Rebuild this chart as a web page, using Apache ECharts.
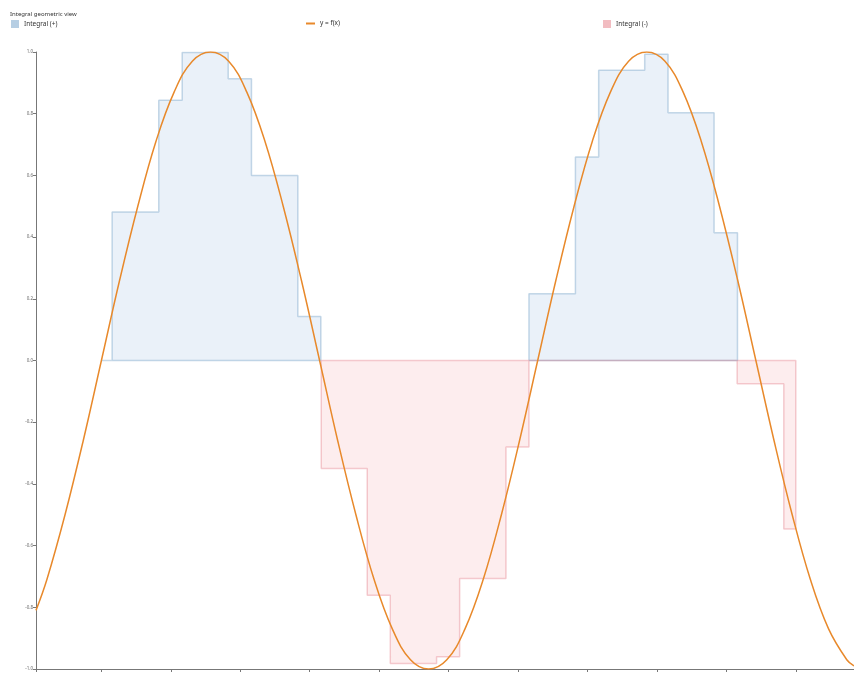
<!DOCTYPE html>
<html>
<head>
<meta charset="utf-8">
<script src="https://cdn.jsdelivr.net/npm/echarts@6/dist/echarts.min.js"></script>
<style>
html,body{margin:0;padding:0;background:#fff;}
#chart{width:854px;height:675px;}
</style>
</head>
<body>
<div id="chart"></div>
<script>
// Curve y = f(x) (x in axis units)
const curveX = [-0.942,-0.785,-0.524,-0.262,0,0.262,0.524,0.785,1.047,1.309,1.571,1.833,2.094,2.356,2.618,2.880,3.142,3.403,3.665,3.927,4.189,4.451,4.712,4.974,5.236,5.498,5.760,6.021,6.283,6.545,6.807,7.069,7.330,7.592,7.854,8.116,8.378,8.639,8.901,9.163,9.425,9.687,9.948,10.210,10.472,10.734,10.838];
const curveY = [-0.81,-0.71,-0.5,-0.26,0,0.26,0.5,0.71,0.87,0.97,1.0,0.97,0.87,0.71,0.5,0.26,0,-0.26,-0.5,-0.71,-0.87,-0.97,-1.0,-0.97,-0.87,-0.71,-0.5,-0.26,0,0.26,0.5,0.71,0.87,0.97,1.0,0.97,0.87,0.71,0.5,0.26,0,-0.26,-0.5,-0.71,-0.87,-0.97,-0.99];

// Positive integral steps (two humps)
const posEdges1 = [0,0.154,0.826,1.163,1.826,2.161,2.829,3.16];
const posHeights1 = [0,0.481,0.844,0.998,0.913,0.6,0.143];
const posEdges2 = [6.157,6.826,7.161,7.824,8.16,8.823,9.16];
const posHeights2 = [0.216,0.66,0.941,0.993,0.803,0.414];

// Negative integral steps
const negEdges = [3.166,3.828,4.16,4.827,5.159,5.826,6.157,9.155,9.827,10.0];
const negHeights = [-0.35,-0.761,-0.982,-0.96,-0.707,-0.28,0,-0.075,-0.546];

const yTicks = {min:-1, max:1, step:0.2};
const xRange = {min:-0.942, max:10.838};

function polygon(edges, heights){
  const pts = [[edges[0],0]];
  for(let i=0;i<heights.length;i++){
    pts.push([edges[i],heights[i]]);
    pts.push([edges[i+1],heights[i]]);
  }
  pts.push([edges[edges.length-1],0]);
  pts.push([edges[0],0]);
  return pts;
}

const curveData = curveX.map((x,i)=>[x,curveY[i]]);

const posFill = 'rgba(80,140,205,0.17)';
const posStroke = 'rgba(70,130,180,0.3)';
const negFill = 'rgba(230,70,85,0.14)';
const negStroke = 'rgba(215,70,85,0.26)';
const curveColor = '#e8892b';
const font = 'Noto Sans';

function stepSeries(name, data, fill, stroke, z){
  return {
    name, type:'line', data, symbol:'none', silent:true, z,
    lineStyle:{color:stroke, width:1.5},
    itemStyle:{color:stroke},
    areaStyle:{color:fill, origin:0},
    animation:false
  };
}

const legendText = {fontSize:6.5, color:'#333', fontFamily:font};

const chart = echarts.init(document.getElementById('chart'), null, {renderer:'canvas'});
chart.setOption({
  animation:false,
  backgroundColor:'#fff',
  textStyle:{fontFamily:font},
  title:{text:'Integral geometric view', left:10, top:11, padding:0, textStyle:{fontSize:6, fontWeight:'normal', color:'#333', fontFamily:font}},
  legend:[
    {left:11, top:20, padding:0, itemWidth:8, itemHeight:8, icon:'rect', textStyle:legendText,
     data:[{name:'Integral (+)', itemStyle:{color:'#b6cee3'}}], selectedMode:false},
    {left:306, top:20, padding:0, itemWidth:9, itemHeight:2, icon:'rect', textStyle:legendText,
     data:[{name:'y = f(x)', itemStyle:{color:curveColor}}], selectedMode:false},
    {left:603, top:20, padding:0, itemWidth:8, itemHeight:8, icon:'rect', textStyle:legendText,
     data:[{name:'Integral (-)', itemStyle:{color:'#f2bcc1'}}], selectedMode:false}
  ],
  grid:{left:36, right:0, top:52, bottom:6, containLabel:false},
  xAxis:{
    type:'value', min:xRange.min, max:xRange.max, splitNumber:12,
    axisLine:{onZero:false, lineStyle:{color:'#777', width:1}},
    axisTick:{show:true, length:3, lineStyle:{color:'#777'}},
    axisLabel:{show:false},
    splitLine:{show:false}
  },
  yAxis:{
    type:'value', min:yTicks.min, max:yTicks.max, interval:yTicks.step,
    axisLine:{show:true, onZero:false, lineStyle:{color:'#777', width:1}},
    axisTick:{show:true, length:3, lineStyle:{color:'#777'}},
    axisLabel:{fontSize:4.5, color:'#666', margin:3, formatter:v=>v.toFixed(1)},
    splitLine:{show:false}
  },
  series:[
    stepSeries('Integral (+)', polygon(posEdges1,posHeights1), posFill, posStroke, 2),
    stepSeries('Integral (+)', polygon(posEdges2,posHeights2), posFill, posStroke, 2),
    stepSeries('Integral (-)', polygon(negEdges,negHeights), negFill, negStroke, 3),
    {name:'y = f(x)', type:'line', data:curveData, smooth:0.4, symbol:'none', z:5,
     lineStyle:{color:curveColor, width:1.5}, itemStyle:{color:curveColor}, silent:true}
  ]
});
</script>
</body>
</html>
